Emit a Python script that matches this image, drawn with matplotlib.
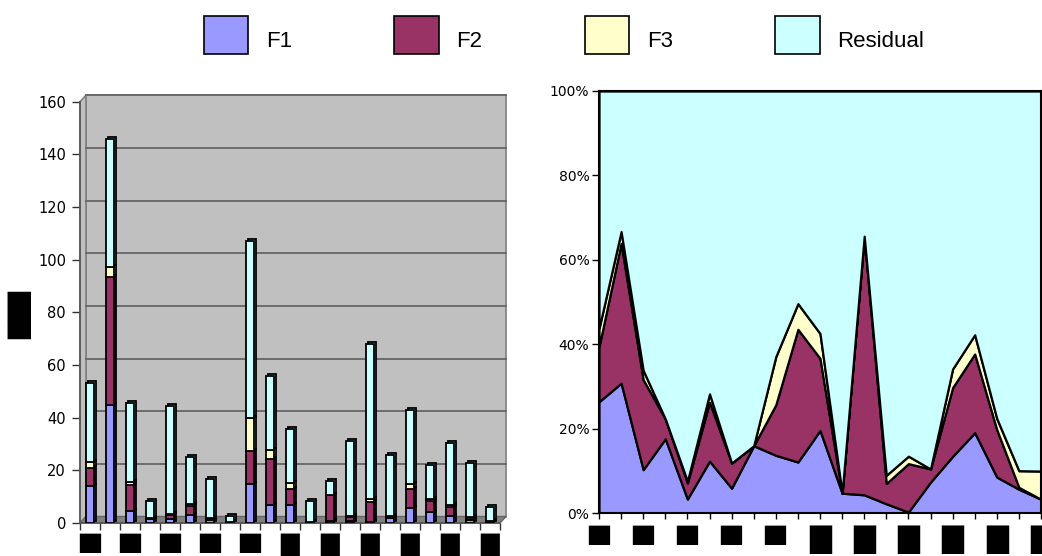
#!/usr/bin/env python3
"""
Stacked factor contributions: absolute (3D-ish column chart) and 100% area chart.
"""

import numpy as np
import matplotlib
matplotlib.use('Agg')  # Use non-interactive backend
import matplotlib.pyplot as plt
from matplotlib.patches import Patch, Polygon, Rectangle
from matplotlib.transforms import offset_copy, ScaledTranslation

categories = np.arange(21)
f1 = [14.0, 45.0, 4.7, 1.5, 1.5, 3.1, 1.0, 0.4, 14.7, 6.8, 7.0,
      0.4, 0.7, 0.7, 0.2, 1.9, 5.8, 4.2, 2.6, 1.3, 0.2]
f2 = [6.9, 48.3, 9.7, 0.4, 1.7, 3.5, 1.0, 0.0, 12.8, 17.6, 6.1,
      0.0, 9.8, 1.5, 7.8, 0.8, 7.0, 4.1, 3.4, 0.1, 0.0]
f3 = [2.3, 4.1, 1.0, 0.0, 0.2, 0.5, 0.0, 0.0, 12.2, 3.4, 2.1,
      0.0, 0.0, 0.6, 1.2, 0.0, 1.9, 1.0, 0.8, 0.9, 0.4]
residual = [29.8, 48.6, 30.1, 6.6, 41.2, 18.0, 14.8, 2.1, 67.3, 28.2, 20.5,
            8.0, 5.5, 28.3, 58.8, 23.0, 28.3, 12.7, 23.5, 20.5, 5.4]

series_names = ['F1', 'F2', 'F3', 'Residual']
series_colors = ['#9999FF', '#993366', '#FFFFCC', '#CCFFFF']

left_yticks = [0, 20, 40, 60, 80, 100, 120, 140, 160]
right_yticks = [0, 20, 40, 60, 80, 100]

# category labels are blacked out in the source
SHORT = '\u2588\u258C'
TALL = '\u2588'
left_xlabels = [SHORT, SHORT, SHORT, SHORT, SHORT, TALL, TALL, TALL, TALL, TALL, TALL]
right_xlabels = [SHORT, SHORT, SHORT, SHORT, SHORT, TALL, TALL, TALL, TALL, TALL, TALL]
ylabel_text = '\u2588\u2588\u258A'

W, H = 1042, 556
fig = plt.figure(figsize=(W / 100, H / 100), dpi=100)
plt.rcParams['font.family'] = ['DejaVu Sans']

data = np.array([f1, f2, f3, residual])


def style_block_labels(labels, tall_size):
    nudge = ScaledTranslation(2.5 / 72, 0, fig.dpi_scale_trans)
    for lab in labels:
        lab.set_verticalalignment('top')
        if lab.get_text() == TALL:
            lab.set_fontsize(tall_size)
        else:
            lab.set_fontsize(13.9)
            lab.set_transform(lab.get_transform() + nudge)


# ---------------- left: stacked columns with a fake 3D wall ----------------
ax = fig.add_axes([80 / W, (H - 523) / H, 420 / W, 421.3 / H])
ax.set_xlim(-0.5, 20.5)
ax.set_ylim(0, 160)
ax.patch.set_visible(False)

wall = offset_copy(ax.transData, fig=fig, x=6, y=6.5, units='dots')
p0 = ax.transData.transform((0, 0))
ddx, ddy = ax.transData.inverted().transform(p0 + np.array([6, 6.5]))

ax.add_patch(Rectangle((-0.5, 0), 21, 160, transform=wall, facecolor='#C0C0C0',
                       edgecolor='#808080', lw=1.2, zorder=0, clip_on=False))
ax.add_patch(Polygon([(-0.5, 0), (-0.5 + ddx, ddy), (-0.5 + ddx, 160 + ddy), (-0.5, 160)],
                     facecolor='#C0C0C0', edgecolor='#808080', lw=1.2, zorder=0.2, clip_on=False))
for yv in left_yticks[1:]:
    ax.plot([-0.5, 20.5], [yv, yv], transform=wall, color='#666666', lw=1.3,
            zorder=0.5, clip_on=False)
ax.add_patch(Polygon([(-0.5, 0), (20.5, 0), (20.5 + ddx, ddy), (-0.5 + ddx, ddy)],
                     facecolor='#808080', edgecolor='#666666', lw=1, zorder=0.6, clip_on=False))

depth = offset_copy(ax.transData, fig=fig, x=2, y=2, units='dots')
bottom = np.zeros(len(categories))
for vals, col in zip(data, series_colors):
    ax.bar(categories, vals, bottom=bottom, width=0.42, color=col, edgecolor='black',
           lw=1.3, zorder=2, transform=depth)
    ax.bar(categories, vals, bottom=bottom, width=0.42, color=col, edgecolor='black',
           lw=1.3, zorder=3)
    bottom += np.array(vals)

for s in ['top', 'right']:
    ax.spines[s].set_visible(False)
for s in ['left', 'bottom']:
    ax.spines[s].set_color('#555555')
    ax.spines[s].set_linewidth(1.2)

ax.set_yticks(left_yticks)
ax.tick_params(axis='y', length=6, width=1, color='#333333', labelsize=10.5, pad=4)
ax.set_xticks(categories[::2], left_xlabels)
ax.set_xticks(np.arange(-0.5, 21, 1), minor=True)
ax.tick_params(axis='x', which='major', length=0, pad=7.5)
ax.tick_params(axis='x', which='minor', length=5, width=1, color='#333333')
style_block_labels(ax.get_xticklabels(), 17.5)

fig.text(21 / W, 1 - 313 / H, ylabel_text, rotation=90, fontsize=16.4,
         ha='center', va='center')

# ---------------- right: 100% stacked area ----------------
pct = data / data.sum(axis=0) * 100

ax2 = fig.add_axes([599 / W, (H - 513.3) / H, 442 / W, 422.3 / H])
ax2.stackplot(categories, pct, colors=series_colors, edgecolor='black', linewidth=1.6)
ax2.set_xlim(0, 20)
ax2.set_ylim(0, 100)
ax2.set_yticks(right_yticks, [f'{v}%' for v in right_yticks])
ax2.set_xticks(categories, [right_xlabels[i // 2] if i % 2 == 0 else '' for i in categories])
ax2.tick_params(axis='y', length=5, width=1, color='black', labelsize=10, pad=2)
ax2.tick_params(axis='x', length=4, width=1, color='black', pad=5)
style_block_labels(ax2.get_xticklabels(), 20.5)
for s in ax2.spines.values():
    s.set_color('black')
    s.set_linewidth(1.5)

# ---------------- legend ----------------
handles = [Patch(facecolor=c, edgecolor='black', lw=1.2, label=n)
           for n, c in zip(series_names, series_colors)]
leg = fig.legend(handles=handles, loc='center', bbox_to_anchor=(564 / W, 1 - 35 / H), ncol=4,
                 frameon=False, prop={'family': 'Liberation Sans', 'size': 16},
                 handlelength=2.0, handleheight=2.25, handletextpad=0.8, columnspacing=4.6)
for t in leg.get_texts():
    t.set_y(-5)

fig.savefig('out.png', dpi=100)
